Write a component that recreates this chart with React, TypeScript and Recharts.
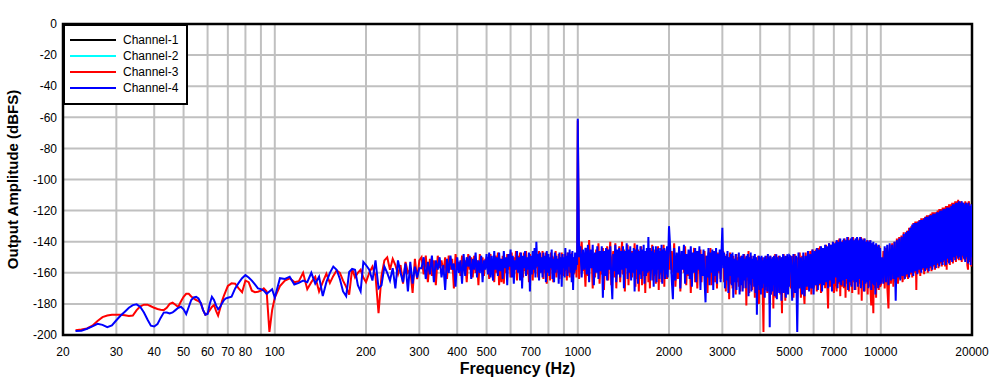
import { LineChart, Line, XAxis, YAxis, CartesianGrid, ReferenceArea } from "recharts";

// FFT bins (Hz), shared by both visible channels
const freqHz = [
  // 22-70
  22, 23, 24, 25, 26, 27, 28, 29, 30, 31, 32, 33, 34, 35, 36, 37, 38, 39, 40, 41,
  42, 43, 44, 45, 46, 47, 48, 49, 50, 51, 52, 53, 54, 55, 56, 57, 58, 59, 60, 61,
  62, 63, 64, 65, 66, 67, 68, 69, 70,
  // 72-100
  72, 74, 76, 78, 80, 82, 84, 86, 88, 90, 92, 94, 96, 98, 100,
  // 104-200
  104, 108, 112, 116, 120, 124, 128, 132, 136, 140, 144, 148, 152, 156, 160, 164, 168, 172, 176, 180,
  184, 188, 192, 196, 200,
  // 205-300
  205, 210, 215, 220, 225, 230, 235, 240, 245, 250, 255, 260, 265, 270, 275, 280, 285, 290, 295, 300,
  // 305-1000
  305, 310, 315, 320, 325, 330, 335, 340, 345, 350,
  355, 360, 365, 370, 375, 380, 385, 390, 395, 400,
  405, 410, 415, 420, 425, 430, 435, 440, 445, 450,
  455, 460, 465, 470, 475, 480, 485, 490, 495, 500,
  505, 510, 515, 520, 525, 530, 535, 540, 545, 550,
  555, 560, 565, 570, 575, 580, 585, 590, 595, 600,
  605, 610, 615, 620, 625, 630, 635, 640, 645, 650,
  655, 660, 665, 670, 675, 680, 685, 690, 695, 700,
  705, 710, 715, 720, 725, 730, 735, 740, 745, 750,
  755, 760, 765, 770, 775, 780, 785, 790, 795, 800,
  805, 810, 815, 820, 825, 830, 835, 840, 845, 850,
  855, 860, 865, 870, 875, 880, 885, 890, 895, 900,
  905, 910, 915, 920, 925, 930, 935, 940, 945, 950,
  955, 960, 965, 970, 975, 980, 985, 990, 995, 1000,
  // 1010-2000
  1010, 1020, 1030, 1040, 1050, 1060, 1070, 1080, 1090, 1100,
  1110, 1120, 1130, 1140, 1150, 1160, 1170, 1180, 1190, 1200,
  1210, 1220, 1230, 1240, 1250, 1260, 1270, 1280, 1290, 1300,
  1310, 1320, 1330, 1340, 1350, 1360, 1370, 1380, 1390, 1400,
  1410, 1420, 1430, 1440, 1450, 1460, 1470, 1480, 1490, 1500,
  1510, 1520, 1530, 1540, 1550, 1560, 1570, 1580, 1590, 1600,
  1610, 1620, 1630, 1640, 1650, 1660, 1670, 1680, 1690, 1700,
  1710, 1720, 1730, 1740, 1750, 1760, 1770, 1780, 1790, 1800,
  1810, 1820, 1830, 1840, 1850, 1860, 1870, 1880, 1890, 1900,
  1910, 1920, 1930, 1940, 1950, 1960, 1970, 1980, 1990, 2000,
  // 2020-5000
  2020, 2040, 2060, 2080, 2100, 2120, 2140, 2160, 2180, 2200,
  2220, 2240, 2260, 2280, 2300, 2320, 2340, 2360, 2380, 2400,
  2420, 2440, 2460, 2480, 2500, 2520, 2540, 2560, 2580, 2600,
  2620, 2640, 2660, 2680, 2700, 2720, 2740, 2760, 2780, 2800,
  2820, 2840, 2860, 2880, 2900, 2920, 2940, 2960, 2980, 3000,
  3020, 3040, 3060, 3080, 3100, 3120, 3140, 3160, 3180, 3200,
  3220, 3240, 3260, 3280, 3300, 3320, 3340, 3360, 3380, 3400,
  3420, 3440, 3460, 3480, 3500, 3520, 3540, 3560, 3580, 3600,
  3620, 3640, 3660, 3680, 3700, 3720, 3740, 3760, 3780, 3800,
  3820, 3840, 3860, 3880, 3900, 3920, 3940, 3960, 3980, 4000,
  4020, 4040, 4060, 4080, 4100, 4120, 4140, 4160, 4180, 4200,
  4220, 4240, 4260, 4280, 4300, 4320, 4340, 4360, 4380, 4400,
  4420, 4440, 4460, 4480, 4500, 4520, 4540, 4560, 4580, 4600,
  4620, 4640, 4660, 4680, 4700, 4720, 4740, 4760, 4780, 4800,
  4820, 4840, 4860, 4880, 4900, 4920, 4940, 4960, 4980, 5000,
  // 5050-10000
  5050, 5100, 5150, 5200, 5250, 5300, 5350, 5400, 5450, 5500,
  5550, 5600, 5650, 5700, 5750, 5800, 5850, 5900, 5950, 6000,
  6050, 6100, 6150, 6200, 6250, 6300, 6350, 6400, 6450, 6500,
  6550, 6600, 6650, 6700, 6750, 6800, 6850, 6900, 6950, 7000,
  7050, 7100, 7150, 7200, 7250, 7300, 7350, 7400, 7450, 7500,
  7550, 7600, 7650, 7700, 7750, 7800, 7850, 7900, 7950, 8000,
  8050, 8100, 8150, 8200, 8250, 8300, 8350, 8400, 8450, 8500,
  8550, 8600, 8650, 8700, 8750, 8800, 8850, 8900, 8950, 9000,
  9050, 9100, 9150, 9200, 9250, 9300, 9350, 9400, 9450, 9500,
  9550, 9600, 9650, 9700, 9750, 9800, 9850, 9900, 9950, 10000,
  // 10100-20000
  10100, 10200, 10300, 10400, 10500, 10600, 10700, 10800, 10900, 11000,
  11100, 11200, 11300, 11400, 11500, 11600, 11700, 11800, 11900, 12000,
  12100, 12200, 12300, 12400, 12500, 12600, 12700, 12800, 12900, 13000,
  13100, 13200, 13300, 13400, 13500, 13600, 13700, 13800, 13900, 14000,
  14100, 14200, 14300, 14400, 14500, 14600, 14700, 14800, 14900, 15000,
  15100, 15200, 15300, 15400, 15500, 15600, 15700, 15800, 15900, 16000,
  16100, 16200, 16300, 16400, 16500, 16600, 16700, 16800, 16900, 17000,
  17100, 17200, 17300, 17400, 17500, 17600, 17700, 17800, 17900, 18000,
  18100, 18200, 18300, 18400, 18500, 18600, 18700, 18800, 18900, 19000,
  19100, 19200, 19300, 19400, 19500, 19600, 19700, 19800, 19900, 20000,
];

// Channel-3 (red), dBFS
const ch3Db = [
  // 22-70
  -197, -196.5, -195.8, -194, -191, -188.5, -187.5, -187, -187, -187,
  -187.3, -187.8, -187.5, -184, -181.5, -180.5, -180.5, -181.5, -182.5, -183.3,
  -183.7, -184, -182.5, -180, -179.2, -180.5, -182, -178.5, -175.4, -173.5,
  -173.5, -175.2, -176.5, -177.5, -178.2, -179.5, -184, -187, -186, -184,
  -182, -180.7, -184.5, -187.5, -183, -178, -174.5, -171.5, -168.5,
  // 72-100
  -166.8, -167, -170, -172.5, -165, -166, -171.5, -172.5, -172.2, -171.5, -170, -172, -198, -184, -176,
  // 104-200
  -168.5, -165, -163.5, -166, -165.5, -160, -170.5, -166, -162.5, -172, -166, -160.5, -166.5, -162, -158.5,
  -160, -165, -169, -174, -157.5, -163, -160, -158, -163, -166,
  // 205-300
  -160, -156, -162, -186, -162, -152, -150, -158, -151, -155, -161, -155, -167, -153, -160, -158, -173, -151, -164, -152,
  // 305-1000
  -150, -161, -149, -166, -151, -162, -152, -168, -149, -157,
  -152, -160, -150, -164, -149, -158, -151, -170, -148, -157,
  -153, -162, -149, -159, -152, -166, -148, -158, -150, -163,
  -149, -160, -152, -168, -148, -157, -150, -162, -151, -156,
  -150, -164, -148, -158, -152, -166, -149, -160, -147, -168,
  -151, -166, -149, -167, -152, -160, -148, -158, -150, -163,
  -147, -162, -150, -158, -146, -165, -149, -157, -147, -161,
  -150, -163, -147, -159, -146, -161, -151, -166, -148, -158,
  -152, -165, -148, -160, -150, -157, -149, -163, -146, -160,
  -150, -158, -146, -164, -151, -160, -147, -167, -149, -159,
  -152, -165, -147, -158, -149, -166, -150, -157, -146, -163,
  -151, -160, -148, -164, -150, -158, -147, -161, -151, -162,
  -148, -159, -150, -165, -147, -160, -152, -163, -149, -158,
  -147, -165, -150, -161, -152, -159, -148, -163, -150, -62,
  // 1010-2000
  -164, -148, -140, -159, -150, -169, -144, -162, -139, -156,
  -147, -170, -150, -163, -145, -158, -141, -167, -149, -161,
  -144, -171, -148, -158, -143, -165, -150, -140, -168, -152,
  -146, -163, -141, -170, -149, -159, -143, -166, -150, -140,
  -161, -145, -172, -148, -157, -142, -168, -150, -160, -146,
  -163, -146, -158, -141, -169, -149, -164, -145, -172, -148,
  -160, -143, -168, -150, -162, -146, -173, -149, -158, -144,
  -166, -151, -170, -147, -159, -142, -165, -149, -162, -145,
  -167, -150, -158, -143, -171, -148, -161, -144, -166, -150,
  -159, -142, -169, -148, -160, -145, -164, -150, -158, -146,
  // 2020-5000
  -158, -146, -160, -141, -169, -149, -164, -145, -172, -148,
  -147, -160, -143, -168, -150, -162, -146, -173, -149, -158,
  -144, -166, -151, -170, -147, -159, -145, -166, -150, -160,
  -146, -163, -149, -173, -147, -158, -144, -168, -151, -162,
  -148, -166, -151, -170, -147, -160, -149, -164, -146, -150,
  -146, -166, -151, -172, -148, -163, -150, -177, -147, -167,
  -152, -170, -149, -165, -151, -174, -148, -166, -150, -169,
  -153, -172, -149, -167, -151, -170, -148, -164, -150, -181,
  -151, -165, -146, -173, -150, -168, -149, -171, -152, -166,
  -153, -176, -150, -167, -152, -170, -149, -180, -151, -165,
  -152, -170, -150, -174, -198, -153, -169, -151, -171, -149,
  -173, -150, -169, -152, -180, -149, -174, -151, -167, -150,
  -183, -150, -171, -148, -176, -152, -166, -150, -172, -149,
  -168, -151, -174, -150, -170, -186, -151, -172, -148, -169,
  -150, -178, -152, -170, -149, -172, -150, -167, -151, -152,
  // 5050-10000
  -170, -149, -176, -148, -171, -150, -168, -147, -176, -149,
  -166, -180, -147, -171, -148, -167, -146, -174, -145, -170,
  -167, -145, -172, -144, -168, -143, -173, -145, -166, -144,
  -170, -142, -165, -183, -141, -169, -142, -166, -140, -173,
  -166, -140, -172, -139, -167, -138, -175, -140, -169, -139,
  -170, -138, -176, -139, -167, -137, -172, -139, -168, -138,
  -173, -137, -166, -139, -171, -138, -165, -140, -174, -138,
  -167, -137, -178, -139, -168, -138, -172, -140, -166, -139,
  -174, -140, -169, -139, -171, -181, -141, -168, -186, -142,
  -170, -143, -176, -142, -168, -144, -171, -143, -169, -168,
  // 10100-20000
  -165, -146, -170, -144, -168, -183, -142, -167, -141, -169,
  -140, -166, -138, -167, -137, -164, -136, -166, -134, -163,
  -162, -133, -164, -131, -161, -130, -163, -128, -160, -127,
  -171, -127, -160, -126, -162, -125, -158, -125, -161, -124,
  -158, -123, -160, -123, -157, -122, -159, -121, -156, -121,
  -158, -121, -155, -120, -157, -119, -154, -119, -156, -118,
  -153, -118, -156, -117, -158, -117, -153, -116, -155, -116,
  -151, -115, -154, -115, -150, -114, -153, -114, -150, -113,
  -152, -114, -149, -114, -153, -115, -150, -115, -152, -114,
  -151, -115, -155, -158, -114, -116, -153, -117, -156, -118,
];

// Channel-4 (blue), dBFS
const ch4Db = [
  // 22-70
  -197.5, -197.3, -196, -194.5, -192.8, -193.5, -195, -193.8, -190.5, -187.5,
  -185, -182.5, -180.8, -180.3, -182, -185.5, -190, -194, -194.5, -193,
  -189, -185.6, -185.5, -186.2, -185.5, -184, -182.5, -181.8, -183.5, -186.5,
  -182, -177.5, -175.8, -175.5, -176.5, -179.5, -184, -187, -186.5, -180,
  -175.4, -177.5, -181, -183.5, -182, -179.5, -177.5, -176.4, -176,
  // 72-100
  -175.4, -170, -166.5, -163.5, -161.5, -163, -165, -167.5, -170, -170.5, -171.5, -173.5, -172, -170.5, -176,
  // 104-200
  -163.5, -164, -162.5, -167.5, -166.5, -165, -166, -160, -167, -162.5, -175, -166, -160, -156, -158,
  -164, -172, -175, -159.5, -157.5, -158, -168, -172, -153, -155,
  // 205-300
  -158, -165, -152, -170, -168, -156, -160, -165, -157, -170, -152, -160, -166, -154, -172, -153, -167, -156, -163, -157,
  // 305-1000
  -157, -150, -164, -153, -161, -149, -166, -152, -158, -150,
  -163, -155, -171, -151, -160, -149, -158, -154, -169, -150,
  -160, -152, -167, -148, -162, -150, -156, -149, -164, -151,
  -158, -147, -163, -152, -160, -149, -166, -152, -158, -148,
  -161, -147, -163, -149, -165, -146, -158, -150, -162, -147,
  -159, -151, -164, -146, -157, -150, -168, -148, -156, -145,
  -163, -149, -167, -152, -158, -146, -160, -150, -165, -147,
  -170, -149, -157, -146, -162, -150, -158, -147, -172, -149,
  -161, -146, -158, -144, -163, -140, -156, -148, -165, -147,
  -160, -150, -163, -147, -158, -149, -166, -146, -160, -148,
  -162, -150, -157, -145, -164, -151, -166, -147, -160, -149,
  -158, -151, -167, -147, -161, -150, -169, -148, -157, -150,
  -163, -144, -158, -149, -162, -147, -156, -145, -160, -148,
  -166, -146, -171, -150, -160, -147, -158, -149, -155, -61,
  // 1010-2000
  -150, -143, -163, -145, -158, -144, -161, -142, -166, -145,
  -157, -142, -168, -147, -160, -143, -164, -146, -159, -143,
  -176, -146, -162, -144, -165, -145, -158, -143, -163, -177,
  -148, -159, -142, -166, -145, -161, -144, -163, -146, -158,
  -143, -170, -146, -157, -141, -164, -145, -160, -143, -165,
  -147, -160, -144, -172, -145, -158, -142, -167, -146, -161,
  -143, -164, -145, -159, -142, -167, -146, -162, -144, -160,
  -137, -159, -144, -165, -146, -158, -143, -169, -147, -161,
  -143, -166, -145, -158, -144, -164, -146, -160, -142, -167,
  -145, -158, -144, -164, -146, -161, -143, -163, -147, -130,
  // 2020-5000
  -145, -163, -177, -144, -165, -147, -160, -143, -170, -146,
  -158, -142, -167, -148, -161, -145, -164, -143, -169, -147,
  -160, -144, -166, -146, -158, -143, -171, -148, -162, -145,
  -165, -179, -149, -163, -144, -168, -147, -160, -145, -171,
  -146, -162, -144, -167, -148, -159, -145, -166, -147, -131,
  -157, -147, -170, -149, -165, -146, -173, -150, -162, -148,
  -168, -147, -176, -151, -166, -148, -171, -152, -163, -147,
  -174, -150, -168, -149, -172, -148, -165, -151, -170, -149,
  -163, -148, -175, -150, -167, -147, -172, -151, -164, -149,
  -169, -148, -173, -150, -187, -152, -168, -149, -171, -150,
  -174, -149, -170, -152, -167, -150, -176, -149, -169, -151,
  -172, -148, -168, -150, -195, -149, -174, -151, -172, -150,
  -168, -149, -175, -151, -166, -148, -177, -150, -169, -152,
  -173, -149, -168, -151, -178, -150, -169, -148, -173, -152,
  -167, -149, -176, -151, -170, -148, -174, -150, -169, -149,
  // 5050-10000
  -150, -178, -148, -173, -149, -198, -147, -170, -150, -174,
  -147, -175, -149, -169, -146, -172, -148, -170, -145, -174,
  -146, -168, -144, -171, -145, -167, -143, -172, -144, -168,
  -142, -166, -143, -170, -141, -165, -142, -172, -140, -167,
  -141, -163, -139, -170, -140, -166, -138, -168, -140, -165,
  -138, -169, -139, -164, -137, -171, -139, -166, -138, -169,
  -137, -165, -139, -171, -138, -166, -137, -169, -139, -164,
  -137, -170, -138, -165, -139, -172, -138, -167, -140, -166,
  -139, -170, -140, -165, -139, -171, -141, -167, -140, -168,
  -142, -174, -141, -166, -143, -170, -142, -168, -144, -167,
  // 10100-20000
  -150, -167, -143, -166, -142, -168, -141, -165, -142, -164,
  -140, -178, -139, -163, -138, -165, -137, -162, -135, -164,
  -134, -161, -133, -163, -131, -160, -129, -162, -128, -159,
  -128, -161, -127, -158, -126, -160, -126, -157, -125, -159,
  -124, -157, -124, -159, -123, -156, -123, -158, -122, -155,
  -122, -157, -121, -154, -121, -156, -120, -153, -120, -155,
  -119, -152, -119, -155, -118, -151, -118, -154, -118, -152,
  -117, -153, -116, -150, -116, -152, -115, -149, -115, -151,
  -114, -150, -115, -152, -114, -149, -115, -151, -116, -153,
  -115, -150, -116, -154, -115, -152, -117, -155, -116, -150,
];

const legendItems = [
  { name: "Channel-1", color: "#000000" },
  { name: "Channel-2", color: "#00FFFF" },
  { name: "Channel-3", color: "#FF0000" },
  { name: "Channel-4", color: "#0000FF" },
];

const xGridTicks = [
  20, 30, 40, 50, 60, 70, 80, 90, 100, 200, 300, 400, 500, 600, 700, 800, 900,
  1000, 2000, 3000, 4000, 5000, 6000, 7000, 8000, 9000, 10000, 20000,
];
const xLabelTicks = [20, 30, 40, 50, 60, 70, 80, 100, 200, 300, 400, 500, 700, 1000, 2000, 3000, 5000, 7000, 10000, 20000];
const yTicks = [0, -20, -40, -60, -80, -100, -120, -140, -160, -180, -200];

const chartData = freqHz.map((f, i) => ({ f, ch3: ch3Db[i], ch4: ch4Db[i] }));

const FONT = "Arial, 'Liberation Sans', sans-serif";

function ChannelLegend() {
  return (
    <div
      style={{
        position: "absolute",
        left: 63,
        top: 24,
        width: 125,
        height: 81,
        boxSizing: "border-box",
        border: "2px solid #000",
        background: "#fff",
        fontFamily: FONT,
        fontSize: 12,
      }}
    >
      {legendItems.map((item, i) => (
        <div
          key={item.name}
          style={{ position: "absolute", left: 0, top: 6 + i * 16, height: 16, width: 120 }}
        >
          <div style={{ position: "absolute", left: 5, top: 7, width: 46, height: 2, background: item.color }} />
          <div style={{ position: "absolute", left: 58, top: 0, lineHeight: "16px", color: "#000", whiteSpace: "nowrap" }}>
            {item.name}
          </div>
        </div>
      ))}
    </div>
  );
}

export default function App() {
  return (
    <div style={{ position: "absolute", left: 0, top: 0, width: 1006, height: 387, background: "#fff", fontFamily: FONT }}>
      <LineChart width={1006} height={387} data={chartData} margin={{ top: 24, right: 34, bottom: 0, left: 0 }}>
        <CartesianGrid stroke="#C0C0C0" strokeWidth={2} />
        <XAxis
          dataKey="f"
          type="number"
          scale="log"
          domain={[20, 20000]}
          ticks={xGridTicks}
          interval={0}
          allowDataOverflow
          height={52}
          axisLine={false}
          tickLine={false}
          tickSize={6}
          tickMargin={6}
          tick={{ fill: "#000", fontSize: 12, fontFamily: FONT }}
          tickFormatter={(v: number) => (xLabelTicks.includes(v) ? String(v) : "")}
          label={{
            value: "Frequency (Hz)",
            position: "insideBottom",
            offset: 13,
            fill: "#000",
            style: { fontSize: 16, fontWeight: "bold", fill: "#000", fontFamily: FONT },
          }}
        />
        <YAxis
          type="number"
          domain={[-200, 0]}
          ticks={yTicks}
          interval={0}
          width={63}
          axisLine={false}
          tickLine={false}
          tickSize={3}
          tickMargin={3}
          tick={{ fill: "#000", fontSize: 12, fontFamily: FONT }}
          label={{
            value: "Output Amplitude (dBFS)",
            angle: -90,
            position: "insideLeft",
            offset: 13,
            fill: "#000",
            style: { textAnchor: "middle", fontSize: 15, fontWeight: "bold", fill: "#000", fontFamily: FONT },
          }}
        />
        <Line type="linear" dataKey="ch3" stroke="#FF0000" strokeWidth={2} dot={false} isAnimationActive={false} />
        <Line type="linear" dataKey="ch4" stroke="#0000FF" strokeWidth={2} dot={false} isAnimationActive={false} />
        <ReferenceArea x1={20} x2={20000} y1={-200} y2={0} fill="none" stroke="#000" strokeWidth={2.5} />
      </LineChart>
      <ChannelLegend />
    </div>
  );
}
